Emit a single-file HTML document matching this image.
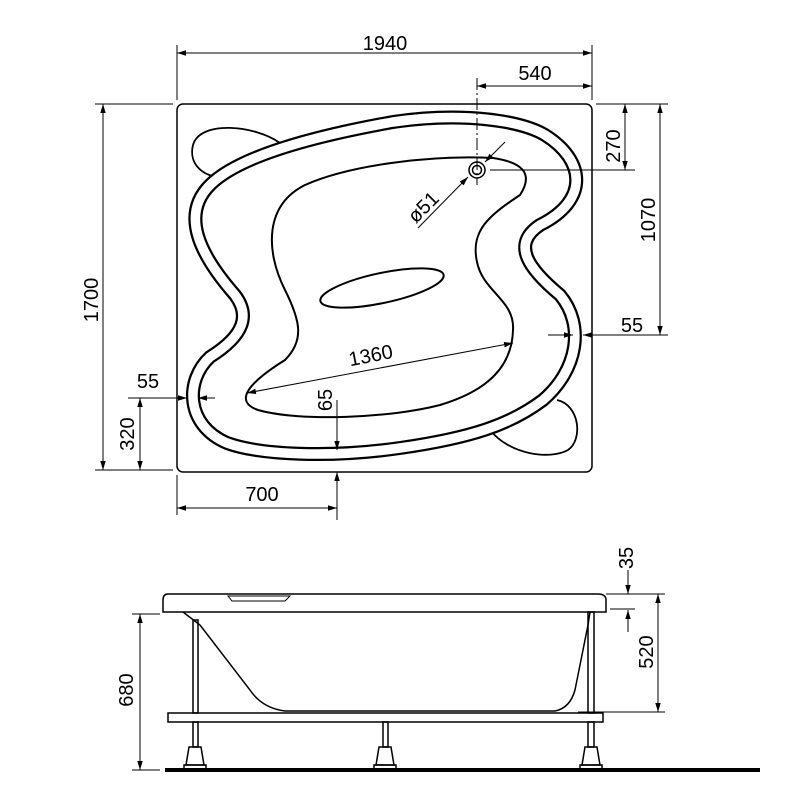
<!DOCTYPE html>
<html><head><meta charset="utf-8"><style>html,body{margin:0;padding:0;background:#fff}svg{display:block}</style></head>
<body>
<svg width="800" height="800" viewBox="0 0 800 800" xmlns="http://www.w3.org/2000/svg" font-family="Liberation Sans, sans-serif" font-size="20" fill="none" stroke="#000">
<defs>
<marker id="a" viewBox="0 0 10 10" refX="10" refY="5" markerWidth="9" markerHeight="9" orient="auto-start-reverse"><path d="M0,2 L10,5 L0,8z" fill="#000" stroke="none"/></marker>
</defs>
<rect x="177" y="104" width="415" height="368" rx="6" stroke-width="1.5"/>
<path d="M280,143 C255,125 200,120 193,145 C188,165 205,178 223,177" stroke-width="1.8"/>
<path d="M557,400 C580,405 583,440 568,450 C550,460 510,455 490,430" stroke-width="1.8"/>
<path d="M393,122 C460,112 520,120 545,135 C585,160 590,200 540,225 C510,245 530,270 560,295 C585,325 578,370 543,400 C510,425 470,438 400,448 C330,458 260,455 227,443 C185,425 185,380 210,357 C245,335 250,315 235,295 C200,255 180,215 210,185 C240,155 320,135 393,122Z" stroke="#000" stroke-width="14"/>
<path d="M393,122 C460,112 520,120 545,135 C585,160 590,200 540,225 C510,245 530,270 560,295 C585,325 578,370 543,400 C510,425 470,438 400,448 C330,458 260,455 227,443 C185,425 185,380 210,357 C245,335 250,315 235,295 C200,255 180,215 210,185 C240,155 320,135 393,122Z" stroke="#fff" stroke-width="9.5"/>
<path d="M493,158 C520,162 535,172 520,195 C490,215 470,230 477,262 C483,292 515,300 513,330 C512,365 490,390 440,405 C390,418 300,422 258,410 C235,402 245,385 285,360 C305,340 300,320 285,290 C265,250 265,205 305,185 C350,165 430,155 493,158Z" stroke-width="2"/>
<ellipse cx="382" cy="288" rx="63" ry="15" transform="rotate(-12 382 288)" stroke-width="2"/>
<circle cx="477" cy="170" r="8" stroke-width="1.5"/><circle cx="477" cy="170" r="4.5" stroke-width="1.5"/>
<g stroke-width="1">
<line x1="177" y1="45" x2="177" y2="100"/><line x1="592" y1="45" x2="592" y2="100"/>
<line x1="177" y1="53" x2="592" y2="53" marker-start="url(#a)" marker-end="url(#a)"/>
<line x1="477" y1="78" x2="477" y2="185" stroke-dasharray="12 3 2 3"/>
<line x1="477" y1="86" x2="592" y2="86" marker-start="url(#a)" marker-end="url(#a)"/>
<line x1="95" y1="104" x2="173" y2="104"/><line x1="95" y1="470" x2="173" y2="470"/>
<line x1="103" y1="104" x2="103" y2="470" marker-start="url(#a)" marker-end="url(#a)"/>
<line x1="596" y1="104" x2="668" y2="104"/>
<line x1="490" y1="170" x2="635" y2="170"/>
<line x1="660" y1="104" x2="660" y2="335" marker-start="url(#a)" marker-end="url(#a)"/>
<line x1="625" y1="104" x2="625" y2="170" marker-start="url(#a)" marker-end="url(#a)"/>
<line x1="548" y1="335" x2="573" y2="335" marker-end="url(#a)"/>
<line x1="668" y1="335" x2="583" y2="335" marker-end="url(#a)"/>
<line x1="128" y1="398" x2="187" y2="398" marker-end="url(#a)"/>
<line x1="215" y1="398" x2="198" y2="398" marker-end="url(#a)"/>
<line x1="140" y1="398" x2="140" y2="470" marker-start="url(#a)" marker-end="url(#a)"/>
<line x1="337" y1="400" x2="337" y2="450" marker-end="url(#a)"/>
<line x1="337" y1="520" x2="337" y2="472" marker-end="url(#a)"/>
<line x1="177" y1="475" x2="177" y2="515"/>
<line x1="177" y1="508" x2="337" y2="508" marker-start="url(#a)" marker-end="url(#a)"/>
<line x1="247" y1="393" x2="513" y2="343" marker-start="url(#a)" marker-end="url(#a)"/>
<line x1="418" y1="228" x2="468" y2="177" marker-end="url(#a)"/>
<line x1="505" y1="142" x2="485" y2="162" marker-end="url(#a)"/>
</g>
<g fill="#000" stroke="none">
<text x="385" y="50" text-anchor="middle">1940</text>
<text x="535" y="80" text-anchor="middle">540</text>
<text transform="translate(98,300) rotate(-90)" text-anchor="middle">1700</text>
<text transform="translate(655,220) rotate(-90)" text-anchor="middle">1070</text>
<text transform="translate(620,146) rotate(-90)" text-anchor="middle">270</text>
<text x="632" y="332" text-anchor="middle">55</text>
<text x="148" y="388" text-anchor="middle">55</text>
<text transform="translate(134,434) rotate(-90)" text-anchor="middle">320</text>
<text x="262" y="501" text-anchor="middle">700</text>
<text transform="translate(332,400) rotate(-90)" text-anchor="middle">65</text>
<text transform="translate(372,362) rotate(-11)" text-anchor="middle">1360</text>
<text transform="translate(428,212) rotate(-45)" text-anchor="middle">ø51</text>
</g>
<path d="M168,594 L598,594 Q606,594 606,600 L606,612 L163,612 L163,600 Q163,594 168,594Z" stroke-width="1.5"/>
<path d="M228,596 L290,596 L285,601 L232,601Z" stroke-width="1"/>
<path d="M183,612 L200,625 L250,690 Q262,708 285,711 L555,711 Q570,708 575,690 L588,625 L590,612" stroke-width="1.5"/>
<rect x="168" y="713" width="435" height="9" stroke-width="1.5"/>
<line x1="165" y1="770" x2="760" y2="770" stroke-width="4"/>
<g stroke-width="1.5">
<rect x="193" y="620" width="5" height="93"/><rect x="588" y="612" width="6" height="101"/>
<rect x="193" y="722" width="5" height="25"/><rect x="383" y="722" width="5" height="25"/><rect x="588" y="722" width="6" height="25"/>
<path d="M189,747 L201,747 L204,765 L186,765Z"/><path d="M379,747 L391,747 L394,765 L376,765Z"/><path d="M585,747 L597,747 L600,765 L582,765Z"/>
<rect x="184" y="765" width="22" height="4"/><rect x="374" y="765" width="22" height="4"/><rect x="580" y="765" width="22" height="4"/>
</g>
<g stroke-width="1">
<line x1="132" y1="614" x2="160" y2="614"/><line x1="132" y1="770" x2="160" y2="770"/>
<line x1="140" y1="614" x2="140" y2="770" marker-start="url(#a)" marker-end="url(#a)"/>
<line x1="606" y1="594" x2="665" y2="594"/><line x1="610" y1="609" x2="635" y2="609"/><line x1="578" y1="712" x2="665" y2="712"/>
<line x1="658" y1="594" x2="658" y2="712" marker-start="url(#a)" marker-end="url(#a)"/>
<line x1="628" y1="570" x2="628" y2="594" marker-end="url(#a)"/>
<line x1="628" y1="632" x2="628" y2="610" marker-end="url(#a)"/>
</g>
<g fill="#000" stroke="none">
<text transform="translate(133,690) rotate(-90)" text-anchor="middle">680</text>
<text transform="translate(653,652) rotate(-90)" text-anchor="middle">520</text>
<text transform="translate(633,558) rotate(-90)" text-anchor="middle">35</text>
</g>
</svg>
</body></html>
